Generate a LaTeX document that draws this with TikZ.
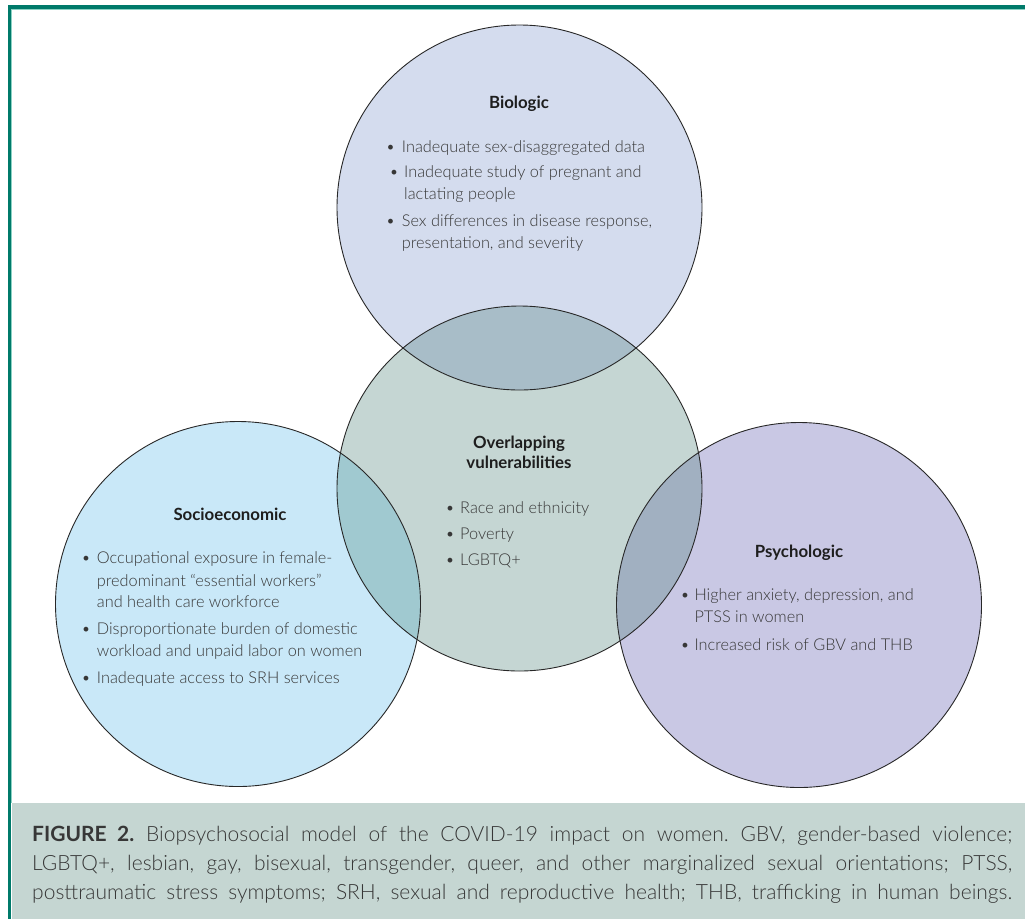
\documentclass[tikz,border=0pt]{standalone}
\usepackage{fontspec}
\setmainfont{Lato}
\newfontfamily\lightfont{Lato Light}
\definecolor{frameteal}{RGB}{0,122,106}
\definecolor{tealL}{RGB}{140,210,196}
\definecolor{fillB}{RGB}{212,220,238}
\definecolor{fillC}{RGB}{197,214,211}
\definecolor{fillS}{RGB}{201,232,248}
\definecolor{fillP}{RGB}{201,200,228}
\definecolor{lensBC}{RGB}{168,189,200}
\definecolor{lensSC}{RGB}{160,201,208}
\definecolor{lensPC}{RGB}{161,176,193}
\definecolor{capbg}{RGB}{197,214,210}
\definecolor{txt}{RGB}{55,55,55}
\definecolor{hd}{RGB}{30,30,30}
\definecolor{edge}{RGB}{40,40,40}
\tikzset{
  head/.style={anchor=base, inner sep=0, font=\bfseries\fontsize{16.8}{18}\selectfont, text=hd},
  itm/.style={anchor=base west, inner sep=0, font=\lightfont\fontsize{16.3}{20}\selectfont, text=txt},
  bul/.style={anchor=base, inner sep=0, font=\lightfont\fontsize{16.3}{20}\selectfont, text=txt},
  captxt/.style={anchor=base west, inner sep=0, font=\lightfont\fontsize{21}{24}\selectfont\frenchspacing, text=txt},
  ring/.style={draw=edge, line width=0.9pt}
}
\begin{document}
\begin{tikzpicture}[x=1pt,y=-1pt]
\useasboundingbox (0,0) rectangle (1025,919);
\fill[white] (0,0) rectangle (1025,919);
% frame
\fill[capbg] (11.5,803) rectangle (1025,919);
\fill[frameteal] (8,5) rectangle (1025,8.5);
\fill[tealL] (10.7,8.5) rectangle (1025,10);
\fill[frameteal] (8,5) rectangle (10.7,919);
\fill[tealL] (10.7,8.5) rectangle (11.7,803);
% circles
\def\R{182.5}
\coordinate (cB) at (519.5,207.5);
\coordinate (cC) at (519.5,488.5);
\coordinate (cS) at (238,604);
\coordinate (cP) at (799,605);
\fill[fillB] (cB) circle (\R);
\fill[fillC] (cC) circle (\R);
\fill[fillS] (cS) circle (\R);
\fill[fillP] (cP) circle (\R);
\begin{scope}\clip (cC) circle (\R); \fill[lensBC] (cB) circle (\R); \end{scope}
\begin{scope}\clip (cC) circle (\R); \fill[lensSC] (cS) circle (\R); \end{scope}
\begin{scope}\clip (cC) circle (\R); \fill[lensPC] (cP) circle (\R); \end{scope}
\draw[ring] (cB) circle (\R);
\draw[ring] (cC) circle (\R);
\draw[ring] (cS) circle (\R);
\draw[ring] (cP) circle (\R);
% Biologic
\node[head] (hB) at (519,108) {Biologic};
\node[bul] (bB1) at (390.7,152) {•};
\node[itm] (tB1) at (401.7,152) {Inadequate sex-disaggregated data};
\node[bul] (bB2) at (394,177) {•};
\node[itm] (tB2) at (404,177) {Inadequate study of pregnant and};
\node[itm] (tB2b) at (404,199) {lactating people};
\node[bul] (bB3) at (390.7,226) {•};
\node[itm] (tB3) at (401.7,226) {Sex differences in disease response,};
\node[itm] (tB3b) at (401.7,248) {presentation, and severity};
% Overlapping
\node[head] (hC1) at (519,448) {Overlapping};
\node[head] (hC2) at (519,468.5) {vulnerabilities};
\node[bul] (bC1) at (450,513) {•};
\node[itm] (tC1) at (460,513) {Race and ethnicity};
\node[bul] (bC2) at (450,539.5) {•};
\node[itm] (tC2) at (460,539.5) {Poverty};
\node[bul] (bC3) at (450,565) {•};
\node[itm] (tC3) at (460,565) {LGBTQ+};
% Socioeconomic
\node[head] (hS) at (230,520) {Socioeconomic};
\node[bul] (bS1) at (86,563) {•};
\node[itm] (tS1) at (96.7,563) {Occupational exposure in female-};
\node[itm] (tS1b) at (96.7,586) {predominant “essential workers”};
\node[itm] (tS1c) at (96.7,607) {and health care workforce};
\node[bul] (bS2) at (86,634) {•};
\node[itm] (tS2) at (96.7,634) {Disproportionate burden of domestic};
\node[itm] (tS2b) at (96.7,656) {workload and unpaid labor on women};
\node[bul] (bS3) at (86,683) {•};
\node[itm] (tS3) at (96.7,683) {Inadequate access to SRH services};
% Psychologic
\node[head] (hP) at (799,557) {Psychologic};
\node[bul] (bP1) at (685,600) {•};
\node[itm] (tP1) at (694.3,600) {Higher anxiety, depression, and};
\node[itm] (tP1b) at (694.3,622.5) {PTSS in women};
\node[bul] (bP2) at (685,650) {•};
\node[itm] (tP2) at (694.3,650) {Increased risk of GBV and THB};
% caption
\node[captxt] (cap1) at (32,841) {\makebox[980pt][s]{{\normalfont\bfseries FIGURE 2.} Biopsychosocial model of the COVID-19 impact on women. GBV, gender-based violence;}};
\node[captxt] (cap2) at (32,870) {\makebox[980pt][s]{LGBTQ+, lesbian, gay, bisexual, transgender, queer, and other marginalized sexual orientations; PTSS,}};
\node[captxt] (cap3) at (32,899) {\makebox[980pt][s]{posttraumatic stress symptoms; SRH, sexual and reproductive health; THB, trafficking in human beings.}};
\end{tikzpicture}
\end{document}
